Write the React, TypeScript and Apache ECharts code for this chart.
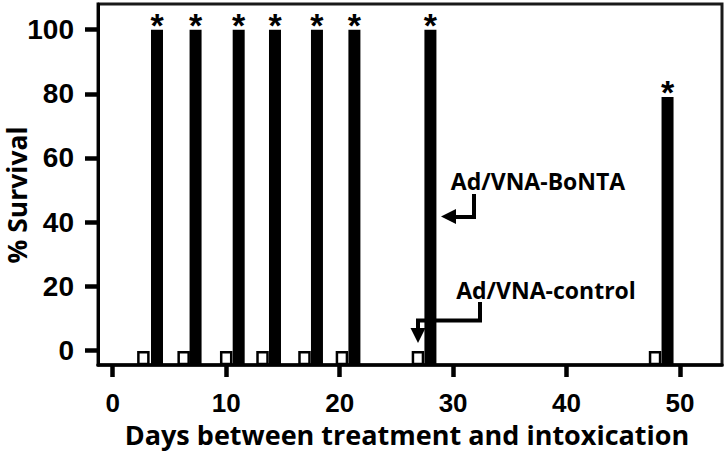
import React, { useEffect, useRef } from "react";
import * as echarts from "echarts";

// Days (x position) of each group's bars
const controlDays = [2.7, 6.25, 10.0, 13.2, 16.9, 20.2, 26.9, 47.8];
const controlSurvival = [0, 0, 0, 0, 0, 0, 0, 0];
const bontaDays = [3.9, 7.3, 11.1, 14.3, 18.0, 21.3, 28.0, 48.9];
const bontaSurvival = [100, 100, 100, 100, 100, 100, 100, 79];
const significance = ["*", "*", "*", "*", "*", "*", "*", "*"];

const xTicks = [0, 10, 20, 30, 40, 50];
const yTicks = [0, 20, 40, 60, 80, 100];

const X_MIN = -1.3;
const X_MAX = 53.7;
const Y_MIN = -4.6;
const Y_MAX = 108;

const xTitle = "Days between treatment and intoxication";
const yTitle = "% Survival";
const bontaLabel = "Ad/VNA-BoNTA";
const controlLabel = "Ad/VNA-control";

const SANS = "'Liberation Sans', Arial, sans-serif";
const HUMAN = "'Open Sans', sans-serif";

export default function App() {
  const ref = useRef<HTMLDivElement>(null);

  useEffect(() => {
    if (!ref.current) return;
    const chart = echarts.init(ref.current, undefined, { renderer: "svg" });

    const bontaData = bontaDays.map((d, i) => [d, bontaSurvival[i], significance[i]]);
    const controlData = controlDays.map((d, i) => [d, controlSurvival[i]]);

    chart.setOption({
      animation: false,
      backgroundColor: "#ffffff",
      grid: {
        left: 98,
        right: 5,
        top: 4,
        bottom: 87,
        outerBoundsMode: "none",
        containLabel: false,
        show: true,
        borderColor: "#1a1a1a",
        borderWidth: 3,
        backgroundColor: "transparent",
      },
      xAxis: {
        type: "value",
        min: X_MIN,
        max: X_MAX,
        name: xTitle,
        nameLocation: "middle",
        nameGap: 53,
        nameTextStyle: {
          fontFamily: HUMAN,
          fontWeight: "bold",
          fontSize: 27,
          color: "#000",
          padding: [0, 6, 0, 0],
        },
        splitLine: { show: false },
        axisLine: { show: true, onZero: false, lineStyle: { color: "#000", width: 3.5 } },
        axisTick: {
          show: true,
          inside: false,
          length: 12,
          lineStyle: { color: "#000", width: 4.5 },
          customValues: xTicks,
        },
        axisLabel: {
          customValues: xTicks,
          margin: 25,
          fontFamily: SANS,
          fontWeight: "bold",
          fontSize: 26,
          color: "#000",
        },
      },
      yAxis: {
        type: "value",
        min: Y_MIN,
        max: Y_MAX,
        splitLine: { show: false },
        axisLine: { show: true, onZero: false, lineStyle: { color: "#000", width: 3 } },
        axisTick: {
          show: true,
          inside: false,
          length: 13,
          lineStyle: { color: "#000", width: 4.5 },
          customValues: yTicks,
        },
        axisLabel: {
          customValues: yTicks,
          margin: 24,
          fontFamily: SANS,
          fontWeight: "bold",
          fontSize: 28,
          color: "#000",
        },
      },
      series: [
        {
          type: "custom",
          name: controlLabel,
          data: controlData,
          encode: { x: 0, y: 1 },
          renderItem: (params: any, api: any) => {
            const x = api.value(0);
            const y = api.value(1);
            const top = api.coord([x, y]);
            const base = api.coord([x, Y_MIN]);
            const w = 10;
            return {
              type: "rect",
              shape: { x: top[0] - w / 2, y: top[1] + 2, width: w, height: base[1] - top[1] - 3 },
              style: { fill: "#fff", stroke: "#000", lineWidth: 2.5 },
            };
          },
        },
        {
          type: "custom",
          name: bontaLabel,
          data: bontaData,
          encode: { x: 0, y: 1 },
          renderItem: (params: any, api: any) => {
            const x = api.value(0);
            const y = api.value(1);
            const top = api.coord([x, y]);
            const base = api.coord([x, Y_MIN]);
            const w = 12;
            const mark = significance[params.dataIndex];
            return {
              type: "group",
              children: [
                {
                  type: "rect",
                  shape: { x: top[0] - w / 2, y: top[1], width: w, height: base[1] - top[1] },
                  style: { fill: "#000" },
                },
                {
                  type: "text",
                  x: top[0],
                  y: top[1] + 12,
                  style: {
                    text: mark,
                    fontFamily: SANS,
                    fontWeight: "bold",
                    fontSize: 34,
                    fill: "#000",
                    align: "center",
                    verticalAlign: "bottom",
                  },
                },
              ],
            };
          },
        },
      ],
      graphic: [
        {
          type: "text",
          x: 17,
          y: 195,
          rotation: Math.PI / 2,
          style: {
            text: yTitle,
            fontFamily: HUMAN,
            fontWeight: "bold",
            fontSize: 26.5,
            lineHeight: 27,
            fill: "#000",
            align: "center",
            verticalAlign: "middle",
          },
        },
        {
          type: "text",
          x: 538,
          y: 181,
          style: {
            text: bontaLabel,
            fontFamily: HUMAN,
            fontWeight: "bold",
            fontSize: 23,
            fill: "#000",
            align: "center",
            verticalAlign: "middle",
          },
        },
        {
          type: "polyline",
          shape: { points: [[474, 194], [474, 217], [454, 217]] },
          style: { stroke: "#000", lineWidth: 4, fill: null },
        },
        {
          type: "polygon",
          shape: { points: [[441, 216.5], [456, 209], [456, 224]] },
          style: { fill: "#000" },
        },
        {
          type: "text",
          x: 546,
          y: 290,
          style: {
            text: controlLabel,
            fontFamily: HUMAN,
            fontWeight: "bold",
            fontSize: 23,
            fill: "#000",
            align: "center",
            verticalAlign: "middle",
          },
        },
        {
          type: "polyline",
          shape: { points: [[480, 302], [480, 320.5], [418, 320.5], [418, 330]] },
          style: { stroke: "#000", lineWidth: 4, fill: null },
        },
        {
          type: "polygon",
          shape: { points: [[410.5, 328], [425.5, 328], [418, 343]] },
          style: { fill: "#000" },
        },
      ],
    });

    return () => chart.dispose();
  }, []);

  return <div ref={ref} style={{ width: 727, height: 452, position: "absolute", left: 0, top: 0 }} />;
}
